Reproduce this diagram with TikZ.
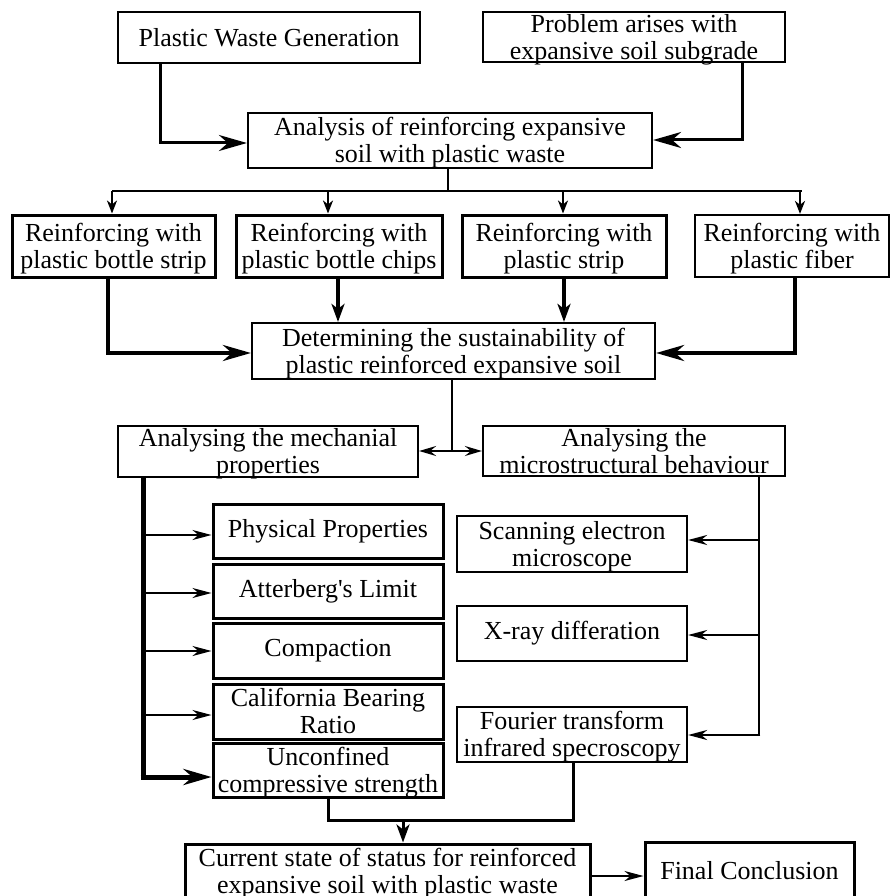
\documentclass[tikz,border=0pt]{standalone}
\usepackage{fontspec}
\setmainfont{Liberation Serif}
\usetikzlibrary{arrows.meta}
\newcommand\twoln[1]{\raisebox{-3pt}[20pt][7pt]{\begin{tabular}{@{}c@{}}#1\end{tabular}}}
\begin{document}
\begin{tikzpicture}[x=1pt,y=-1pt,
  box/.style={draw, line width=2.2pt, inner sep=0pt, align=center,
    font=\fontsize{26}{27}\selectfont},
  tbox/.style={box, line width=3pt},
  bigarr/.style={-{Stealth[length=28pt,width=16pt,inset=9pt]}},
  midarr/.style={-{Stealth[length=18pt,width=13pt,inset=5pt]}},
  smallarr/.style={-{Stealth[length=13pt,width=10pt,inset=4pt]}},
  thinarr/.style={-{Stealth[length=19pt,width=10pt,inset=6pt]}},
  dblarr/.style={{Stealth[length=17pt,width=10pt,inset=6pt]}-{Stealth[length=17pt,width=10pt,inset=6pt]}}
]
\clip (0,0) rectangle (891,896);
\fill[white] (0,0) rectangle (891,896);
% helper: box from corners
\newcommand\mybox[7]{%
  \node[#1, minimum width={#4-#2}, minimum height={#5-#3}] (#6) at ({(#2+#4)/2},{(#3+#5)/2}) {#7};}
\mybox{box}{118}{12}{420}{63}{pwg}{Plastic Waste Generation}
\mybox{box}{483}{12}{785}{62}{prob}{\twoln{Problem arises with\\expansive soil subgrade}}
\mybox{box}{248}{113}{652}{168}{ana}{\twoln{Analysis of reinforcing expansive\\soil with plastic waste}}
\mybox{tbox}{12}{215}{215}{277}{ra}{\twoln{Reinforcing with\\plastic bottle strip}}
\mybox{tbox}{236}{215}{442}{277}{rb}{\twoln{Reinforcing with\\plastic bottle chips}}
\mybox{tbox}{462}{215}{666}{277}{rc}{\twoln{Reinforcing with\\plastic strip}}
\mybox{box}{695}{215}{889}{277}{rd}{\twoln{Reinforcing with\\plastic fiber}}
\mybox{box}{252}{323}{655}{379}{det}{\twoln{Determining the sustainability of\\plastic reinforced expansive soil}}
\mybox{box}{118}{426}{418}{477}{mech}{\twoln{Analysing the mechanial\\properties}}
\mybox{box}{483}{426}{785}{476}{micro}{\twoln{Analysing the\\microstructural behaviour}}
\mybox{tbox}{213}{504}{443}{558}{phys}{Physical Properties}
\mybox{tbox}{213}{564}{443}{618}{att}{Atterberg\textquotesingle s Limit}
\mybox{tbox}{213}{623}{443}{678}{comp}{Compaction}
\mybox{tbox}{213}{684}{443}{739}{cbr}{\twoln{California Bearing\\Ratio}}
\mybox{tbox}{213}{743}{443}{797}{ucs}{\twoln{Unconfined\\compressive strength}}
\mybox{box}{457}{516}{687}{572}{sem}{\twoln{Scanning electron\\microscope}}
\mybox{box}{457}{606}{687}{661}{xrd}{X-ray differation}
\mybox{box}{457}{707}{687}{762}{ftir}{\twoln{Fourier transform\\infrared specroscopy}}
\mybox{tbox}{185}{844}{590}{899}{cur}{\twoln{Current state of status for reinforced\\expansive soil with plastic waste}}
\mybox{tbox}{645}{842}{854}{899}{fin}{Final Conclusion}
% coordinates
\coordinate (t1) at (160,143);
\coordinate (t2) at (742,140);
\coordinate (tree) at (448,191);
\coordinate (lA) at (108,353);
\coordinate (lD) at (795,353);
\coordinate (dj) at (452,451);
\coordinate (mt) at (143,777);
\coordinate (rt) at (759,735);
\coordinate (mg) at (403,820);
% top connectors
\draw[line width=3pt, bigarr] (pwg.south -| t1) -- (t1) -- (ana.west |- t1);
\draw[line width=3pt, bigarr] (prob.south -| t2) -- (t2) -- (ana.east |- t2);
% tree
\draw[line width=2.6pt] (ana.south -| tree) -- (tree);
\draw[line width=2.6pt] (112,191) -- (802,191);
\draw[line width=2.6pt, smallarr] (112,191) -- (ra.north -| 112,0);
\draw[line width=2.6pt, smallarr] (328,191) -- (rb.north -| 328,0);
\draw[line width=2.6pt, smallarr] (563,191) -- (rc.north -| 563,0);
\draw[line width=2.6pt, smallarr] (800,191) -- (rd.north -| 800,0);
% to det
\draw[line width=4pt, bigarr] (ra.south -| lA) -- (lA) -- (det.west |- lA);
\draw[line width=4pt, bigarr] (rd.south -| lD) -- (lD) -- (det.east |- lD);
\draw[line width=3.5pt, midarr] (rb.south -| 338,0) -- (det.north -| 338,0);
\draw[line width=3.5pt, midarr] (rc.south -| 564,0) -- (det.north -| 564,0);
% det to analysing
\draw[line width=2pt] (det.south -| dj) -- (dj);
\draw[line width=2pt, dblarr] (mech.east |- dj) -- (micro.west |- dj);
% mechanical trunk
\draw[line width=5pt] (mech.south -| mt) -- (mt);
\draw[line width=5pt, bigarr] ([xshift=-2.5pt]mt) -- (ucs.west |- mt);
\draw[line width=2pt, thinarr] (mt |- 0,535) -- (phys.west |- 0,535);
\draw[line width=2pt, thinarr] (mt |- 0,593) -- (att.west |- 0,593);
\draw[line width=2pt, thinarr] (mt |- 0,651) -- (comp.west |- 0,651);
\draw[line width=2pt, thinarr] (mt |- 0,715) -- (cbr.west |- 0,715);
% micro trunk
\draw[line width=2.5pt] (micro.south -| rt) -- (rt);
\draw[line width=2.5pt, thinarr] ([xshift=1.25pt]rt) -- (ftir.east |- rt);
\draw[line width=2pt, thinarr] (rt |- 0,540) -- (sem.east |- 0,540);
\draw[line width=2pt, thinarr] (rt |- 0,635) -- (xrd.east |- 0,635);
% merge
\draw[line width=3pt] (ucs.south -| 328,0) -- (328,820) -- (573,820) -- (ftir.south -| 573,0);
\draw[line width=3pt, midarr] (mg) -- (cur.north -| mg);
\draw[line width=2.2pt, thinarr] (cur.east |- 0,876) -- (fin.west |- 0,876);
\end{tikzpicture}
\end{document}
